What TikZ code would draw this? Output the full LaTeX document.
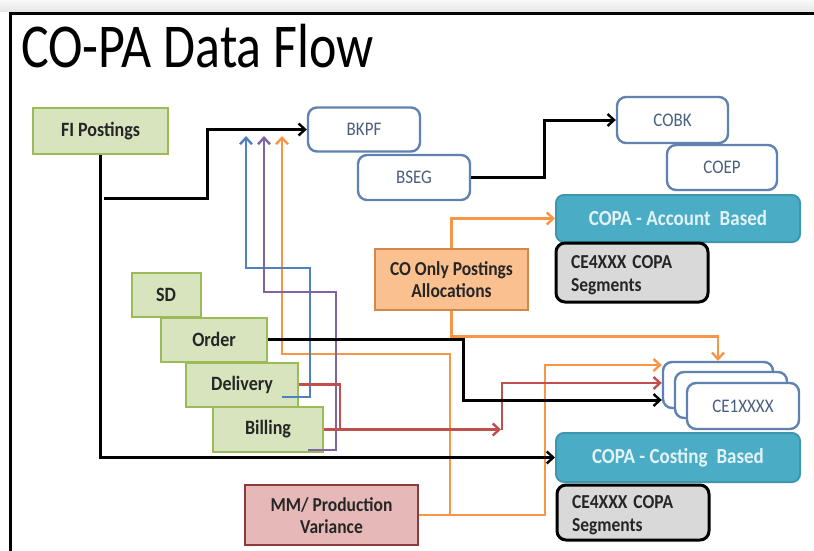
\documentclass[tikz,border=0pt]{standalone}
\usepackage{fontspec}
\setmainfont{Carlito}
\usetikzlibrary{arrows.meta}
\definecolor{grnF}{HTML}{D7E4BD}
\definecolor{grnB}{HTML}{9BBB59}
\definecolor{tblB}{HTML}{5F82B0}
\definecolor{tblT}{HTML}{4A5F7E}
\definecolor{copaF}{HTML}{4BACC6}
\definecolor{copaB}{HTML}{3E96AF}
\definecolor{copaT}{HTML}{E2F3F8}
\definecolor{segF}{HTML}{D9D9D9}
\definecolor{orgF}{HTML}{FAC090}
\definecolor{orgB}{HTML}{D3884A}
\definecolor{mmF}{HTML}{E6B9B8}
\definecolor{mmB}{HTML}{8C3B3A}
\definecolor{lblue}{HTML}{4F81BD}
\definecolor{lpurple}{HTML}{8064A2}
\definecolor{lorange}{HTML}{F79646}
\definecolor{lred}{HTML}{C0504D}
\definecolor{txtD}{HTML}{262626}
\newcommand{\vsc}[1]{\scalebox{1}[1.13]{#1}}
\newcommand{\vsl}[2]{\raisebox{-7.5pt}[0pt][0pt]{\scalebox{1}[1.13]{\begin{tabular}{@{}c@{}}#1\\#2\end{tabular}}}}
\newcommand{\vsll}[2]{\raisebox{-8pt}[0pt][0pt]{\scalebox{1}[1.13]{\begin{tabular}{@{}l@{}}#1\\#2\end{tabular}}}}
\tikzset{
  box/.style={inner sep=0pt, align=center},
  greenbox/.style={box, draw=grnB, fill=grnF, line width=2pt, text=txtD,
    font=\bfseries\fontsize{18}{20}\selectfont},
  tblbox/.style={box, draw=tblB, fill=white, rounded corners=9pt, line width=2.4pt,
    text=tblT, font=\fontsize{17}{19}\selectfont},
  copabox/.style={box, draw=copaB, fill=copaF, rounded corners=8pt, line width=2pt,
    text=copaT, font=\bfseries\fontsize{19}{21}\selectfont},
  segbox/.style={draw=black, fill=segF, rounded corners=9pt, line width=3pt,
    text=txtD, font=\bfseries\fontsize{17.5}{20}\selectfont, align=left,
    inner xsep=15pt, inner ysep=0pt, text width=122pt},
  orgbox/.style={box, draw=orgB, fill=orgF, line width=2.4pt, text=txtD,
    font=\bfseries\fontsize{17.5}{20}\selectfont},
  mmbox/.style={box, draw=mmB, fill=mmF, line width=2.6pt, text=txtD,
    font=\bfseries\fontsize{17.5}{19.5}\selectfont},
  arr/.style={-{Straight Barb[length=6.5pt,width=12pt,line width=2.4pt]}},
  blk/.style={draw=black, line width=3pt},
  cl/.style={line width=2.5pt},
}
\begin{document}
\begin{tikzpicture}[x=1pt,y=-1pt]
\useasboundingbox (0,0) rectangle (814,551);
\fill[white] (0,0) rectangle (814,551);
\shade[top color=gray!5, bottom color=gray!20] (0,0) rectangle (814,12);
\draw[line width=3pt] (10,551) -- (10,13.5) -- (814,13.5);

\node[anchor=base west, inner sep=0pt] (title) at (21,68)
  {\scalebox{1}[1.2]{\fontsize{52}{60}\selectfont CO-PA Data Flow}};

% nodes
\node[greenbox, minimum width=135pt, minimum height=46pt] (fi) at (100.5,131) {\vsc{FI Postings}};
\node[tblbox, minimum width=112pt, minimum height=44pt] (bkpf) at (364,129.5) {\vsc{BKPF}};
\node[tblbox, minimum width=112pt, minimum height=45pt] (bseg) at (414,177.5) {\vsc{BSEG}};
\node[tblbox, minimum width=111pt, minimum height=46pt] (cobk) at (672.5,120) {\vsc{COBK}};
\node[tblbox, minimum width=110pt, minimum height=45pt] (coep) at (722,167.5) {\vsc{COEP}};
\node[copabox, minimum width=244pt, minimum height=47pt] (copaa) at (678,218.5) {\vsc{COPA - Account\hspace{0.25em} Based}};
\node[segbox, minimum height=59pt] (sega) at (632,272.5) {\vsll{CE4XXX COPA}{Segments}};
\node[orgbox, minimum width=153pt, minimum height=61pt] (coonly) at (451.5,279.5) {\vsl{CO Only Postings}{Allocations}};

\node[greenbox, minimum width=69pt, minimum height=44pt] (sd) at (166,294.5) {\vsc{SD}};
\node[greenbox, minimum width=106pt, minimum height=44pt] (order) at (214,339.5) {\vsc{Order}};
\node[greenbox, minimum width=112pt, minimum height=44pt] (delivery) at (242,384.5) {\vsc{Delivery}};
\node[greenbox, minimum width=110pt, minimum height=45pt] (billing) at (268,429.5) {\vsc{Billing}};

\node[tblbox, minimum width=110pt, minimum height=46pt] (ce1a) at (718,385) {};
\node[tblbox, minimum width=112pt, minimum height=46pt] (ce1b) at (731,395) {};
\node[tblbox, minimum width=112pt, minimum height=46pt] (ce1c) at (743,406) {\vsc{CE1XXXX}};

\node[copabox, minimum width=244pt, minimum height=49pt] (copac) at (678,457.5) {\vsc{COPA - Costing\hspace{0.25em} Based}};
\node[segbox, minimum height=55pt] (segc) at (633,512.5) {\vsll{CE4XXX COPA}{Segments}};
\node[mmbox, minimum width=173pt, minimum height=60pt] (mm) at (331.5,515) {\vsl{MM/ Production}{Variance}};

% coordinates
\coordinate (fistart) at (104,198);
\coordinate (bluetip) at (246,136);
\coordinate (purptip) at (264,136);
\coordinate (orgtip) at (282,136);
\coordinate (bluestart) at (282,397);
\coordinate (purpstart) at (308,450);
\coordinate (redjoin) at (501,429.5);
\coordinate (dredend) at (340,429.5);

% colored connectors (behind black)
\draw[cl, lorange, arr] (mm.east) -- (450,515) -- (450,354) -- (282,354) -- (orgtip);
\draw[cl, lorange, arr] (mm.east) -- (545,515) |- ([yshift=20pt]ce1a.west);
\draw[cl, lorange, arr] (coonly.north) |- (copaa.west);
\draw[cl, lorange, arr] (coonly.south) -- ++(0,25.5) -| (ce1a.north);
\draw[cl, lblue, arr] (bluestart) -- (310,397) -- (310,268) -- (246,268) -- (bluetip);
\draw[cl, lpurple, arr] (purpstart) -- (336,450) -- (336,292) -- (264,292) -- (purptip);
\draw[cl, lred] (delivery.east) -- (340,384.5) -- (dredend);
\draw[cl, lred, arr] (billing.east) -- (redjoin);
\draw[cl, lred, arr] ([xshift=1pt]redjoin) |- ([yshift=2pt]ce1a.west);

% black connectors
\draw[blk, arr] (fistart) -- (207,198) |- (bkpf.west);
\draw[blk, arr] (fi.south) |- (copac.west);
\draw[blk, arr] (bseg.east) -- ++(73,0) |- (cobk.west);
\draw[blk, arr] (order.east) -- (463,339.5) |- ([yshift=-15pt]ce1a.west);
\end{tikzpicture}
\end{document}
